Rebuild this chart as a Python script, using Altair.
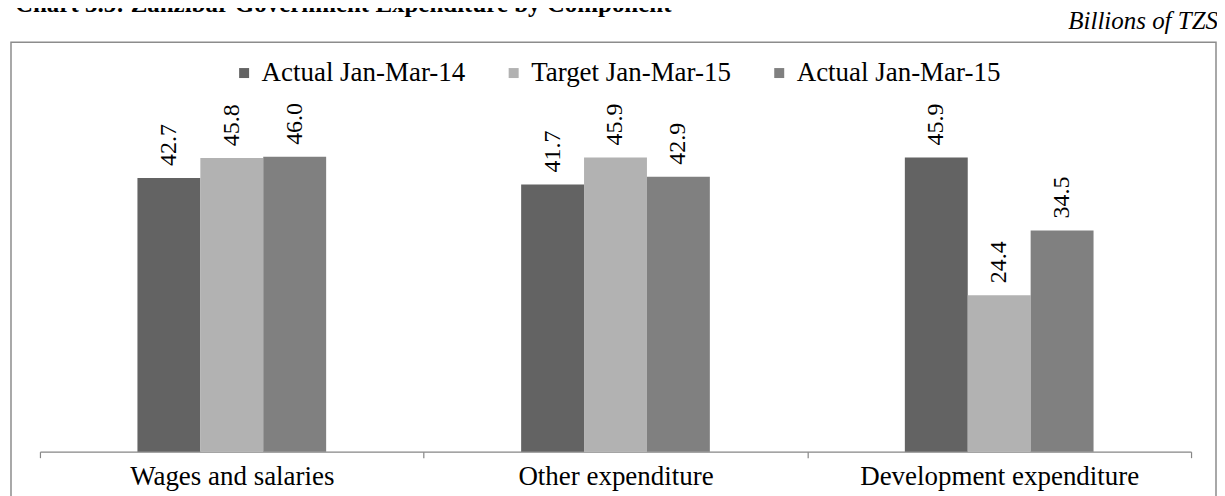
import altair as alt
import pandas as pd

categories = ["Wages and salaries", "Other expenditure", "Development expenditure"]
series = ["Actual Jan-Mar-14", "Target Jan-Mar-15", "Actual Jan-Mar-15"]
actual_14 = [42.7, 41.7, 45.9]
target_15 = [45.8, 45.9, 24.4]
actual_15 = [46.0, 42.9, 34.5]
colors = ["#636363", "#b2b2b2", "#808080"]
title_text = "Chart 3.5: Zanzibar Government Expenditure by Component"
units_text = "Billions of TZS"

FONT = "Times New Roman, Liberation Serif, serif"

rows = []
for s, vals in zip(series, [actual_14, target_15, actual_15]):
    for c, v in zip(categories, vals):
        rows.append({"category": c, "series": s, "value": v})
df = pd.DataFrame(rows)
one = pd.DataFrame({"k": [0]})

offset_domain = ["_l"] + series + ["_r"]

x = alt.X(
    "category:N",
    sort=categories,
    scale=alt.Scale(paddingInner=0, paddingOuter=0),
    axis=alt.Axis(
        title=None, labelAngle=0, labelFont=FONT, labelFontSize=27,
        labelColor="black", domainColor="#868686", tickColor="#868686",
        tickBand="extent", tickSize=6, labelPadding=6, domainWidth=1.2,
        tickWidth=1.2, labelLimit=0,
    ),
)
xoff = alt.XOffset("series:N",
                   scale=alt.Scale(domain=offset_domain, paddingOuter=0.55, paddingInner=0))
y = alt.Y("value:Q", scale=alt.Scale(domain=[0, 50]), axis=None)
color = alt.Color(
    "series:N", sort=series,
    scale=alt.Scale(domain=series, range=colors),
    legend=alt.Legend(
        orient="none", legendX=191, legendY=-72, direction="horizontal",
        title=None, symbolType="square", symbolSize=100, labelFont=FONT,
        labelFontSize=27, labelColor="black", columnPadding=34,
        symbolStrokeWidth=0, labelOffset=4, padding=0, labelLimit=0,
    ),
)

frame = alt.Chart(one).mark_rect(fillOpacity=0, stroke="#8c8c8c", strokeWidth=1.5).encode(
    x=alt.value(-29), x2=alt.value(1178), y=alt.value(-89), y2=alt.value(420)
)

bars = alt.Chart(df).mark_bar().encode(x=x, xOffset=xoff, y=y, color=color)

labels = alt.Chart(df).mark_text(
    angle=270, align="left", baseline="middle", dx=12, font=FONT, fontSize=24, color="black"
).encode(x=x, xOffset=xoff, y=y, text=alt.Text("value:Q", format=".1f"))

units = alt.Chart(one).mark_text(
    align="right", baseline="alphabetic", font=FONT, fontSize=25, fontStyle="italic", color="black"
).encode(x=alt.value(1180), y=alt.value(-102), text=alt.value(units_text))

title = alt.Chart(one).mark_text(
    align="left", baseline="alphabetic", font=FONT, fontSize=25, fontWeight="bold", color="black"
).encode(x=alt.value(-25), y=alt.value(-119), text=alt.value(title_text))

chart = alt.layer(frame, bars, labels, units, title).properties(
    width=1153, height=321,
    autosize=alt.AutoSizeParams(type="none"),
    padding={"left": 32, "top": 123, "right": 26, "bottom": 44},
).configure_view(strokeWidth=0)

chart.save("out.html", embed_options={"renderer": "svg", "actions": False})
